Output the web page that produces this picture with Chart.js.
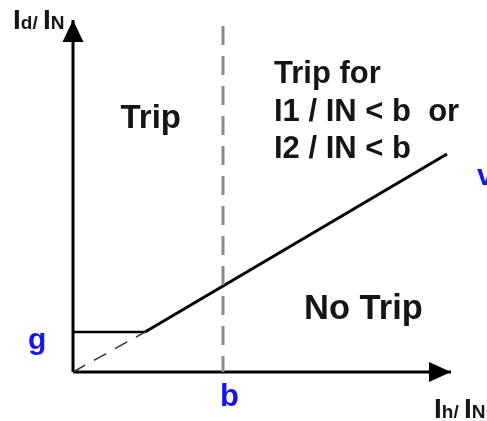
<!DOCTYPE html>
<html>
<head>
<meta charset="utf-8">
<script src="https://cdn.jsdelivr.net/npm/chart.js@4/dist/chart.umd.min.js"></script>
<style>
  html, body { margin: 0; padding: 0; background: #fff; }
  #wrap { width: 487px; height: 421px; position: relative; }
</style>
</head>
<body>
<div id="wrap"><canvas id="c"></canvas></div>
<script>
// ---- data (schematic units: Ih/IN on x, Id/IN on y) ----
const gValue = 0.8;            // pickup level g
const bValue = 3.0;            // breakpoint b
const charX = [1.44, 7.48];    // sloped characteristic (slope v)
const charY = [0.8, 4.36];
const gLineX = [0, 1.44];      // horizontal g segment
const gLineY = [0.8, 0.8];
const extX = [0, 1.44];        // dashed extension to origin
const extY = [0, 0.8];
const xAxisX = [0, 7.56];      // axis ends
const yAxisY = [0, 7.04];
const bLineY = [6.92, 0];      // dashed vertical at b (drawn top to bottom)

const pts = (xs, ys) => xs.map((x, i) => ({ x: x, y: ys[i] }));

const BLUE = '#1515f0';
const INK = '#151515';
const FONT = '"Liberation Sans", Arial, sans-serif';

const labels = [
  { x: -1.2, y: 6.86, color: INK, parts: [['I', 28], ['d/', 19], [' ', 19], ['I', 28], ['N', 19]] },
  { x: 7.22, y: -0.92, color: INK, parts: [['I', 28], ['h/', 19], [' ', 19], ['I', 28], ['N', 19]] },
  { x: -0.9, y: 0.46, color: BLUE, parts: [['g', 30]] },
  { x: 2.94, y: -0.68, color: BLUE, parts: [['b', 31]] },
  { x: 8.08, y: 3.74, color: BLUE, parts: [['v', 30]] },
  { x: 0.95, y: 4.88, color: INK, parts: [['Trip', 33]] },
  { x: 4.62, y: 1.06, color: INK, parts: [['No Trip', 34.5]] },
  { x: 4.02, y: 5.78, color: INK, parts: [['Trip for', 31]] },
  { x: 4.02, y: 5.02, color: INK, parts: [['I1 / IN < b  or', 31]] },
  { x: 4.02, y: 4.28, color: INK, parts: [['I2 / IN < b', 31]] }
];

const decorPlugin = {
  id: 'decor',
  afterDatasetsDraw(chart) {
    const ctx = chart.ctx;
    const xs = chart.scales.x, ys = chart.scales.y;
    ctx.save();
    // arrow heads
    ctx.fillStyle = '#000';
    const ox = xs.getPixelForValue(0), oy = ys.getPixelForValue(0);
    const tx = xs.getPixelForValue(xAxisX[1]);
    ctx.beginPath();
    ctx.moveTo(tx, oy);
    ctx.lineTo(tx - 22, oy - 10);
    ctx.lineTo(tx - 22, oy + 10);
    ctx.closePath();
    ctx.fill();
    const ty = ys.getPixelForValue(yAxisY[1]);
    ctx.beginPath();
    ctx.moveTo(ox, ty);
    ctx.lineTo(ox - 10.5, ty + 22);
    ctx.lineTo(ox + 10.5, ty + 22);
    ctx.closePath();
    ctx.fill();
    // labels
    ctx.textBaseline = 'alphabetic';
    ctx.textAlign = 'left';
    labels.forEach(l => {
      let px = xs.getPixelForValue(l.x);
      const py = ys.getPixelForValue(l.y);
      ctx.fillStyle = l.color;
      l.parts.forEach(([t, s]) => {
        ctx.font = 'bold ' + s + 'px ' + FONT;
        ctx.fillText(t, px, py);
        px += ctx.measureText(t).width;
      });
    });
    ctx.restore();
  }
};

new Chart(document.getElementById('c'), {
  type: 'scatter',
  data: {
    datasets: [
      { data: pts([bValue, bValue], bLineY), showLine: true, borderColor: '#8a8a8a', borderWidth: 3, borderDash: [19, 11], pointRadius: 0 },
      { data: pts(extX, extY), showLine: true, borderColor: '#333', borderWidth: 1.5, borderDash: [14, 10], pointRadius: 0 },
      { data: pts(gLineX, gLineY), showLine: true, borderColor: '#000', borderWidth: 2.5, pointRadius: 0 },
      { data: pts(charX, charY), showLine: true, borderColor: '#000', borderWidth: 3, pointRadius: 0 },
      { data: pts(xAxisX, [0, 0]), showLine: true, borderColor: '#000', borderWidth: 3, pointRadius: 0 },
      { data: pts([0, 0], yAxisY), showLine: true, borderColor: '#000', borderWidth: 3, pointRadius: 0 }
    ]
  },
  options: {
    responsive: true,
    maintainAspectRatio: false,
    animation: false,
    layout: { padding: 0 },
    plugins: { legend: { display: false }, tooltip: { enabled: false } },
    scales: {
      x: { type: 'linear', display: false, min: -1.46, max: 8.28 },
      y: { type: 'linear', display: false, min: -0.98, max: 7.44 }
    }
  },
  plugins: [decorPlugin]
});
</script>
</body>
</html>
